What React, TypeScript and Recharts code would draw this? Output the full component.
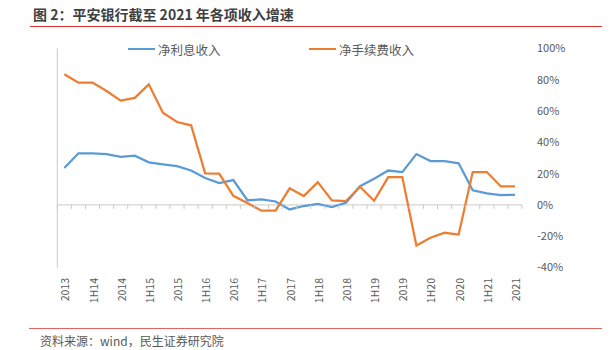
import React from "react";
import {
  LineChart,
  Line,
  XAxis,
  YAxis,
  ReferenceLine,
} from "recharts";

// quarterly periods, 4Q13 .. 4Q21 (only year-ends and half-years get a label)
const periods = [
  "2013", "1Q14", "1H14", "3Q14", "2014", "1Q15", "1H15", "3Q15", "2015",
  "1Q16", "1H16", "3Q16", "2016", "1Q17", "1H17", "3Q17", "2017",
  "1Q18", "1H18", "3Q18", "2018", "1Q19", "1H19", "3Q19", "2019",
  "1Q20", "1H20", "3Q20", "2020", "1Q21", "1H21", "3Q21", "2021",
];

// 净利息收入 同比增速 (%)
const netInterest = [
  23.6, 33, 33, 32.5, 30.8, 31.5, 27.2, 25.9, 24.8, 22, 17.2, 14, 15.9,
  3, 3.5, 2.2, -2.9, -0.7, 0.7, -1.4, 1.4, 12, 16.7, 22, 21,
  32.5, 28, 28, 26.6, 9.3, 7.4, 6.3, 6.5,
];

// 净手续费收入 同比增速 (%)
const netFee = [
  83.5, 78.2, 78.2, 72.8, 66.7, 68.4, 77.1, 59, 53, 50.9, 20.2, 20, 5.8,
  1.2, -3.7, -3.7, 10.6, 5.7, 14.6, 2.9, 2.5, 11.6, 2.7, 17.8, 17.8,
  -25.9, -21, -17.8, -18.9, 21, 21, 11.8, 11.8,
];

const yTicks = [-40, -20, 0, 20, 40, 60, 80, 100];

const data = periods.map((p, i) => ({
  period: p,
  netInterest: netInterest[i],
  netFee: netFee[i],
}));

const W = 612;
const H = 350;
const PLOT_LEFT = 57.3;
const PLOT_RIGHT = 522;
const PLOT_TOP = 48.5;
const PLOT_BOTTOM = 267.5;
const X_AXIS_H = 30;
const RIGHT_AXIS_W = 50;
const LEFT_AXIS_W = 1;

const plotW = PLOT_RIGHT - PLOT_LEFT;
const bandW = plotW / periods.length;
const zeroY =
  PLOT_TOP +
  ((yTicks[yTicks.length - 1] - 0) / (yTicks[yTicks.length - 1] - yTicks[0])) *
    (PLOT_BOTTOM - PLOT_TOP);

const FONT = '"Noto Sans CJK SC", "Microsoft YaHei", sans-serif';
const AXIS_GRAY = "#c9c9c9";
const TEXT_GRAY = "#595959";
const BLUE = "#5B9BD5";
const ORANGE = "#ED7D31";
const RED = "#d7302c";

const isLabelled = (p: string) => !p.startsWith("1Q") && !p.startsWith("3Q");

const XTick = (props: any) => {
  const { x, y, payload, index } = props;
  const label: string = payload.value;
  return (
    <g>
      <line
        x1={x - bandW / 2}
        x2={x - bandW / 2}
        y1={zeroY}
        y2={zeroY + 4}
        stroke={AXIS_GRAY}
      />
      {index === periods.length - 1 && (
        <line
          x1={x + bandW / 2}
          x2={x + bandW / 2}
          y1={zeroY}
          y2={zeroY + 4}
          stroke={AXIS_GRAY}
        />
      )}
      {isLabelled(label) && (
        <text
          transform={`translate(${x + 0.5},${y + 10.5}) rotate(-90)`}
          textAnchor="end"
          dominantBaseline="central"
          fontSize={10.5}
          fill={TEXT_GRAY}
          fontFamily={FONT}
        >
          {label}
        </text>
      )}
    </g>
  );
};

const LeftTick = (props: any) => {
  const { x, y } = props;
  return <line x1={x} x2={x + 4} y1={y} y2={y} stroke={AXIS_GRAY} />;
};

const LegendItem = ({ color, text, left }: { color: string; text: string; left: number }) => (
  <div
    style={{
      position: "absolute",
      left,
      top: 40,
      height: 18,
      display: "flex",
      alignItems: "center",
    }}
  >
    <div style={{ width: 27, height: 2.5, background: color, marginRight: 3 }} />
    <span style={{ fontSize: 12.5, color: TEXT_GRAY, fontFamily: FONT }}>{text}</span>
  </div>
);

export default function App() {
  return (
    <div
      style={{
        position: "absolute",
        left: 0,
        top: 0,
        width: W,
        height: H,
        background: "#fff",
        fontFamily: FONT,
      }}
    >
      <div
        style={{
          position: "absolute",
          left: 33,
          top: 4,
          fontSize: 14,
          fontWeight: 700,
          color: "#404040",
          whiteSpace: "nowrap",
        }}
      >
        图 2：平安银行截至 2021 年各项收入增速
      </div>
      <div style={{ position: "absolute", left: 30, top: 25.5, width: 572, height: 1.2, background: RED }} />

      <div style={{ position: "absolute", left: 0, top: 0 }}>
        <LineChart
          width={W}
          height={H}
          data={data}
          margin={{
            top: PLOT_TOP,
            bottom: H - PLOT_BOTTOM - X_AXIS_H,
            left: PLOT_LEFT - LEFT_AXIS_W,
            right: W - PLOT_RIGHT - RIGHT_AXIS_W,
          }}
        >
          <XAxis
            dataKey="period"
            scale="band"
            interval={0}
            axisLine={false}
            tickLine={false}
            tickSize={0}
            tickMargin={0}
            height={X_AXIS_H}
            tick={<XTick />}
          />
          <YAxis
            yAxisId="left"
            orientation="left"
            width={LEFT_AXIS_W}
            domain={[-40, 100]}
            ticks={yTicks}
            axisLine={{ stroke: AXIS_GRAY }}
            tickLine={false}
            tickSize={0}
            tickMargin={0}
            tick={<LeftTick />}
          />
          <YAxis
            yAxisId="right"
            orientation="right"
            width={RIGHT_AXIS_W}
            domain={[-40, 100]}
            ticks={yTicks}
            axisLine={false}
            tickLine={false}
            tickSize={0}
            tickMargin={15}
            tickFormatter={(v) => `${v}%`}
            tick={{ fontSize: 11, fill: TEXT_GRAY, fontFamily: FONT, textAnchor: "start" }}
          />
          <ReferenceLine yAxisId="right" y={0} stroke={AXIS_GRAY} strokeWidth={1} />
          <Line
            yAxisId="right"
            type="linear"
            dataKey="netInterest"
            name="净利息收入"
            stroke={BLUE}
            strokeWidth={2.25}
            dot={false}
            isAnimationActive={false}
          />
          <Line
            yAxisId="right"
            type="linear"
            dataKey="netFee"
            name="净手续费收入"
            stroke={ORANGE}
            strokeWidth={2.25}
            dot={false}
            isAnimationActive={false}
          />
        </LineChart>
      </div>

      <LegendItem color={BLUE} text="净利息收入" left={128} />
      <LegendItem color={ORANGE} text="净手续费收入" left={309} />

      <div style={{ position: "absolute", left: 29, top: 328, width: 573, height: 1, background: RED, opacity: 0.75 }} />
      <div
        style={{
          position: "absolute",
          left: 40,
          top: 332,
          fontSize: 12,
          color: TEXT_GRAY,
          whiteSpace: "nowrap",
        }}
      >
        资料来源：wind，民生证券研究院
      </div>
    </div>
  );
}
